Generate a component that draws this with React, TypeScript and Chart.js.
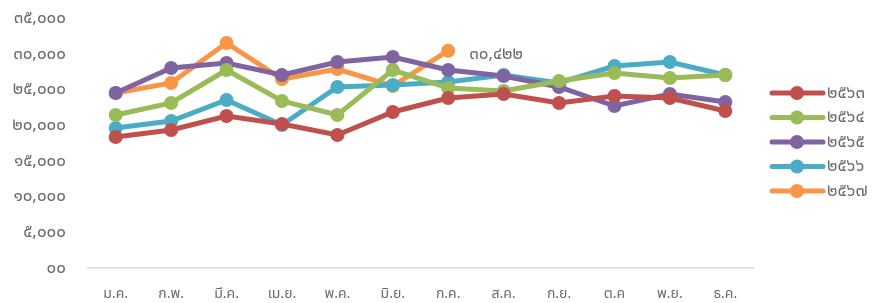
import React, { useEffect, useRef } from "react";
import { Chart, registerables } from "chart.js";

Chart.register(...registerables);

const months = ["ม.ค.", "ก.พ.", "มี.ค.", "เม.ย.", "พ.ค.", "มิ.ย.", "ก.ค.", "ส.ค.", "ก.ย.", "ต.ค", "พ.ย.", "ธ.ค."];
const years = ["๒๕๖๓", "๒๕๖๔", "๒๕๖๕", "๒๕๖๖", "๒๕๖๗"];
const s2563 = [18340, 19320, 21280, 20160, 18620, 21840, 23800, 24360, 23100, 24080, 23800, 21980];
const s2564 = [21420, 23100, 27720, 23380, 21420, 27720, 25200, 24780, 26180, 27300, 26600, 27020];
const s2565 = [24500, 28000, 28700, 27020, 28840, 29540, 27720, 26880, 25340, 22680, 24360, 23240];
const s2566 = [19600, 20580, 23520, 20020, 25340, 25620, 26040, 27020, 25900, 28280, 28840, 27020];
const s2567 = [24500, 25900, 31500, 26460, 27860, 25480, 30422];
const colors = ["#C0504D", "#9BBB59", "#8064A2", "#4BACC6", "#F79646"];
const labelledSeries = 4;
const labelledIndex = 6;

const thai = (s: string) => s.replace(/[0-9]/g, (d) => String.fromCharCode(0x0e50 + Number(d)));
const fmt = (v: number) => (v === 0 ? "๐๐" : thai(v.toLocaleString("en-US")));

const FONT = "'Noto Sans', 'Noto Sans Thai', 'DejaVu Sans', sans-serif";
const GRAY = "#6b6b6b";
const FS = 17;

const legendPlugin = {
  id: "sideLegend",
  afterDraw(chart: any) {
    const ctx = chart.ctx;
    const ds = chart.data.datasets;
    const startY = 93;
    const step = 24.5;
    ctx.save();
    ds.forEach((d: any, i: number) => {
      const y = startY + i * step;
      ctx.strokeStyle = d.borderColor;
      ctx.lineWidth = 5;
      ctx.lineCap = "round";
      ctx.beginPath();
      ctx.moveTo(772, y);
      ctx.lineTo(823, y);
      ctx.stroke();
      ctx.fillStyle = d.borderColor;
      ctx.beginPath();
      ctx.arc(797, y, 7, 0, Math.PI * 2);
      ctx.fill();
      ctx.fillStyle = GRAY;
      ctx.font = `${FS}px ${FONT}`;
      ctx.textBaseline = "middle";
      ctx.textAlign = "left";
      ctx.fillText(d.label, 827, y);
    });
    ctx.restore();
  },
};

const valueLabelPlugin = {
  id: "valueLabel",
  afterDatasetsDraw(chart: any) {
    const meta = chart.getDatasetMeta(labelledSeries);
    const pt = meta.data[labelledIndex];
    if (!pt) return;
    const v = chart.data.datasets[labelledSeries].data[labelledIndex];
    const ctx = chart.ctx;
    ctx.save();
    ctx.fillStyle = GRAY;
    ctx.font = `${FS}px ${FONT}`;
    ctx.textBaseline = "middle";
    ctx.textAlign = "left";
    ctx.fillText(fmt(v), pt.x + 21, pt.y + 3);
    ctx.restore();
  },
};

export default function App() {
  const ref = useRef<HTMLCanvasElement>(null);
  useEffect(() => {
    if (!ref.current) return;
    const series = [s2563, s2564, s2565, s2566, s2567];
    const chart = new Chart(ref.current, {
      type: "line",
      data: {
        labels: months,
        datasets: series.map((d, i) => ({
          label: years[i],
          data: d,
          borderColor: colors[i],
          backgroundColor: colors[i],
          borderWidth: 5,
          pointRadius: 7,
          pointHoverRadius: 7,
          pointBorderWidth: 0,
          tension: 0,
          fill: false,
        })),
      },
      options: {
        animation: false,
        responsive: false,
        layout: { padding: { top: 18, right: 122, left: 0, bottom: 0 } },
        plugins: { legend: { display: false }, tooltip: { enabled: false } },
        scales: {
          x: {
            offset: true,
            grid: { display: false },
            border: { display: true, color: "#D9D9D9", width: 1.5 },
            ticks: { color: GRAY, font: { size: 14, family: FONT }, padding: 10, maxRotation: 0 },
            afterFit: (s: any) => {
              s.height = 35;
              s.paddingLeft = 0;
              s.paddingRight = 0;
            },
          },
          y: {
            min: 0,
            max: 35000,
            grid: { display: false },
            border: { display: false },
            ticks: {
              stepSize: 5000,
              color: GRAY,
              font: { size: FS, family: FONT },
              padding: 14,
              callback: (v: any) => fmt(Number(v)),
            },
            afterFit: (s: any) => {
              s.width = 88;
              s.paddingTop = 0;
              s.paddingBottom = 0;
            },
          },
        },
      },
      plugins: [legendPlugin, valueLabelPlugin],
    });
    return () => chart.destroy();
  }, []);
  return (
    <div style={{ position: "fixed", left: 0, top: 0, width: 875, height: 303, background: "#fff" }}>
      <canvas ref={ref} width={875} height={303} style={{ display: "block" }} />
    </div>
  );
}
